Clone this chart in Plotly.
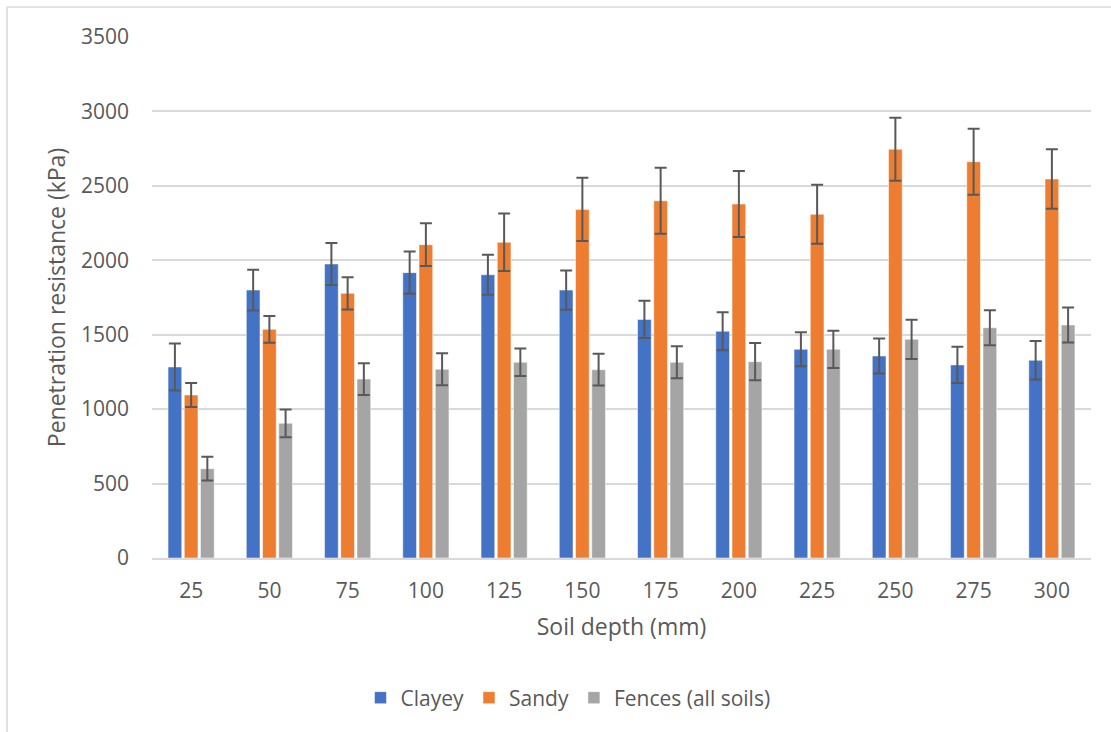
import plotly.graph_objects as go

depths = ["25", "50", "75", "100", "125", "150", "175", "200", "225", "250", "275", "300"]
clayey = [1283, 1800, 1975, 1917, 1903, 1800, 1603, 1523, 1402, 1357, 1297, 1328]
clayey_err = [158, 137, 141, 142, 135, 132, 125, 128, 114, 117, 122, 129]
sandy = [1095, 1536, 1778, 2105, 2121, 2342, 2400, 2378, 2309, 2746, 2662, 2546]
sandy_err = [80, 90, 108, 144, 193, 212, 222, 222, 198, 211, 222, 200]
fences = [600, 905, 1202, 1268, 1315, 1265, 1315, 1319, 1402, 1469, 1547, 1565]
fences_err = [80, 93, 107, 107, 93, 107, 107, 125, 125, 132, 118, 118]

series = [
    ("Clayey", clayey, clayey_err, "#4472C4"),
    ("Sandy", sandy, sandy_err, "#ED7D31"),
    ("Fences (all soils)", fences, fences_err, "#A5A5A5"),
]

FONT = "'Open Sans', Lato, sans-serif"
TXT = "#595959"

fig = go.Figure()
for name, vals, errs, col in series:
    fig.add_trace(go.Bar(
        name=name, x=depths, y=vals,
        marker=dict(color=col, line=dict(color="white", width=0.5)),
        error_y=dict(type="data", array=errs, visible=True,
                     color="#595959", thickness=2, width=6),
    ))

W, H = 1111, 732
L, R, T, B = 152, 20, 37, 174
pw, ph = W - L - R, H - T - B

def px(x):
    return (x - L) / pw

def py(y):
    return (H - B - y) / ph

fig.update_layout(
    width=W, height=H,
    margin=dict(l=L, r=R, t=T, b=B),
    paper_bgcolor="white", plot_bgcolor="white",
    barmode="group", bargap=0.378, bargroupgap=0.155,
    font=dict(family=FONT, color=TXT, size=20),
    showlegend=True,
    legend=dict(orientation="h", x=px(568), xanchor="center", y=py(698),
                yanchor="middle", font=dict(size=21, color=TXT),
                itemwidth=30, traceorder="normal"),
    xaxis=dict(
        title=dict(text="Soil depth (mm)", font=dict(size=23, color=TXT), standoff=16),
        showgrid=False, showline=True, linecolor="#D9D9D9", linewidth=1.5,
        ticks="", tickfont=dict(size=21, color=TXT), ticklabelstandoff=13,
    ),
    yaxis=dict(
        title=dict(text="Penetration resistance (kPa)", font=dict(size=23, color=TXT), standoff=8),
        range=[0, 3500], dtick=500, showgrid=True, gridcolor="#D9D9D9", gridwidth=1.5,
        zeroline=False, showline=False, ticks="", tickfont=dict(size=21, color=TXT),
        ticklabelstandoff=22,
    ),
    shapes=[
        dict(type="line", xref="paper", yref="paper",
             x0=px(7), x1=px(1111), y0=py(7), y1=py(7),
             line=dict(color="#D9D9D9", width=1.5)),
        dict(type="line", xref="paper", yref="paper",
             x0=px(7), x1=px(7), y0=py(7), y1=py(732),
             line=dict(color="#D9D9D9", width=1.5)),
    ],
)

fig.write_html("out.html", config={"displayModeBar": False},
               post_script="document.body.style.margin='0';document.body.style.padding='0';")
